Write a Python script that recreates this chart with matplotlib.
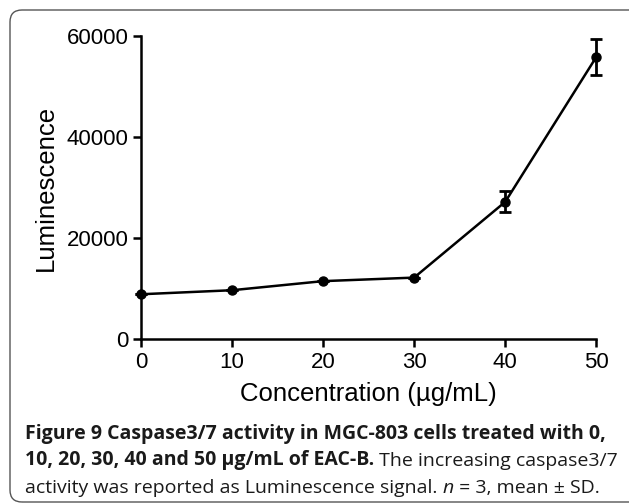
import numpy as np
import matplotlib
matplotlib.use("Agg")
import matplotlib.pyplot as plt
from matplotlib.patches import FancyBboxPatch

# values
conc = [0, 10, 20, 30, 40, 50]
lum = [8900, 9700, 11500, 12200, 27200, 55900]
lum_sd = [0, 0, 0, 0, 2100, 3500]

x_ticks = [0, 10, 20, 30, 40, 50]
y_ticks = [0, 20000, 40000, 60000]

caption_lines = [
    [("Figure 9 Caspase3/7 activity in MGC-803 cells treated with 0,", "bold", "normal")],
    [("10, 20, 30, 40 and 50 \u00b5g/mL of EAC-B.", "bold", "normal"),
     (" The increasing caspase3/7", "normal", "normal")],
    [("activity was reported as Luminescence signal. ", "normal", "normal"),
     ("n", "normal", "italic"),
     (" = 3, mean \u00b1 SD.", "normal", "normal")],
]

chart_font = "Liberation Sans"
cap_font = "Open Sans"

fig = plt.figure(figsize=(6.29, 5.04), dpi=100)

# rounded frame around figure + caption (runs off the right edge)
frame = FancyBboxPatch((0.10, 0.02), 6.45, 4.92,
                       boxstyle="round,pad=0,rounding_size=0.12",
                       transform=fig.dpi_scale_trans, fc="none",
                       ec="#555555", lw=1.0, clip_on=False)
fig.patches.append(frame)

ax = fig.add_axes([0.224, 0.327, 0.724, 0.601])
ax.errorbar(conc, lum, yerr=lum_sd, color="black", lw=1.8, marker="o",
            ms=6.5, capsize=4.5, capthick=2, elinewidth=2, clip_on=False)

ax.set_xlim(0, 50)
ax.set_ylim(0, 60000)
ax.set_xticks(x_ticks)
ax.set_yticks(y_ticks)
for s in ["top", "right"]:
    ax.spines[s].set_visible(False)
for s in ["left", "bottom"]:
    ax.spines[s].set_linewidth(1.8)
ax.tick_params(direction="out", length=6, width=1.8, pad=3)
for lab in ax.get_xticklabels() + ax.get_yticklabels():
    lab.set_fontfamily(chart_font)
    lab.set_fontsize(16)
ax.set_xlabel("Concentration (\u00b5g/mL)", fontfamily=chart_font,
              fontsize=18.5, labelpad=7)
ax.set_ylabel("Luminescence", fontfamily=chart_font, fontsize=18.5,
              labelpad=6)

# caption with mixed bold / regular / italic pieces
y0 = 1 - 444 / 504
line_h = 26.5 / 504
for i, parts in enumerate(caption_lines):
    prev = None
    for txt, weight, style in parts:
        if prev is None:
            prev = fig.text(25 / 629, y0 - i * line_h, txt, fontfamily=cap_font,
                            fontsize=14, fontweight=weight, fontstyle=style,
                            color="#1a1a1a", va="bottom")
        else:
            prev = ax.annotate(txt, xy=(1, 0), xycoords=prev, va="bottom",
                               fontfamily=cap_font, fontsize=14,
                               fontweight=weight, fontstyle=style,
                               color="#1a1a1a", annotation_clip=False)

fig.savefig("out.png", dpi=100)
